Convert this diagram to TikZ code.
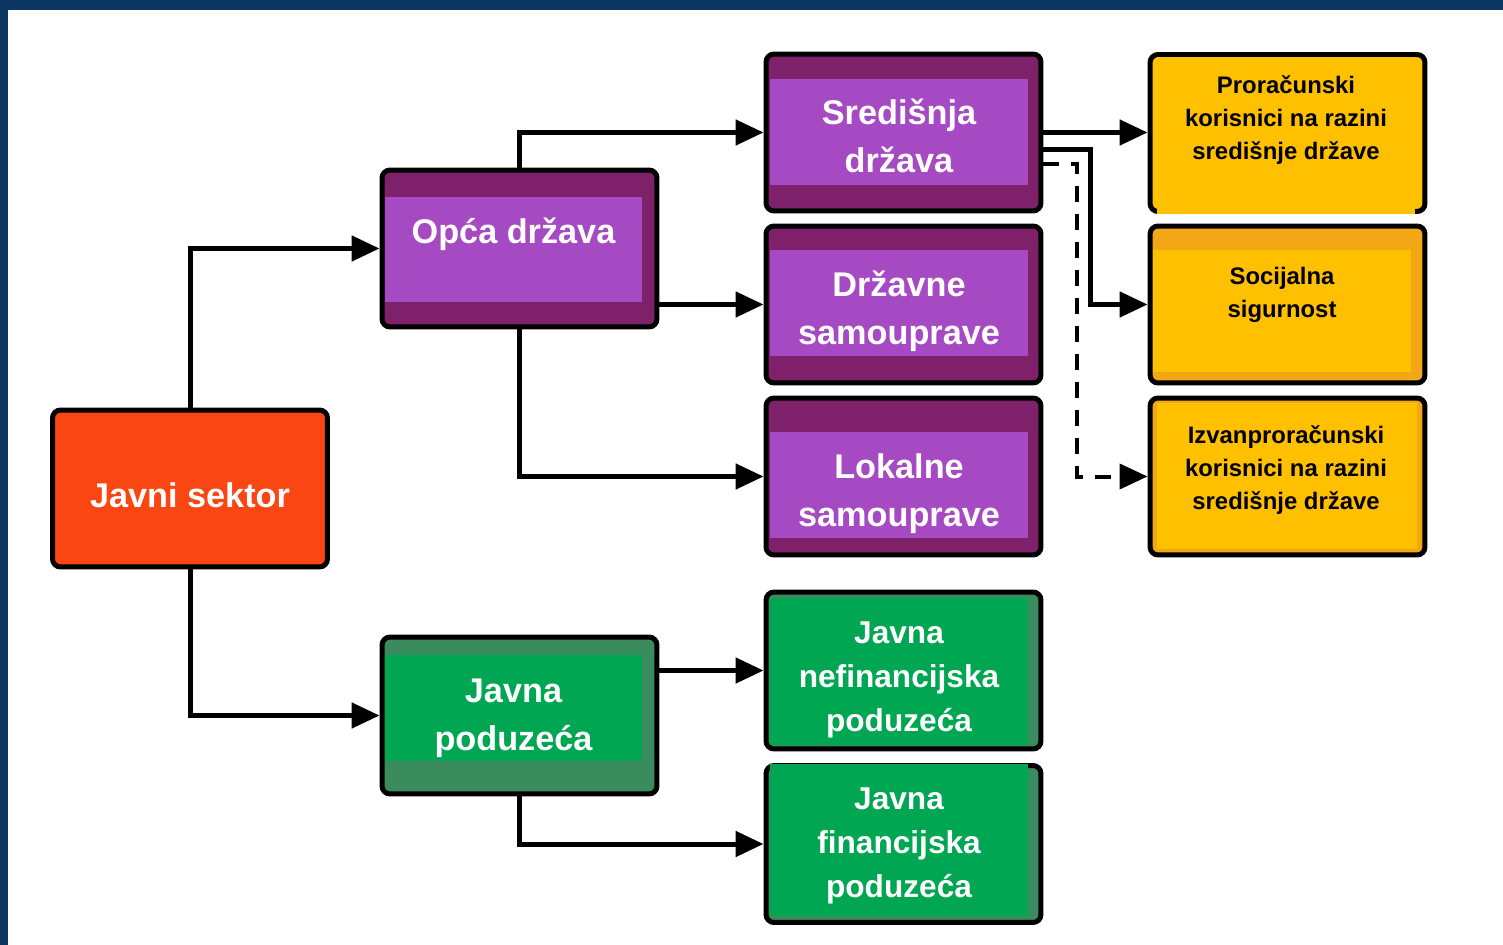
\documentclass[tikz,border=0pt]{standalone}
\usepackage{fontspec}
\setmainfont{Liberation Sans}
\usetikzlibrary{arrows.meta}
\definecolor{frameblue}{HTML}{0B3562}
\definecolor{redorange}{HTML}{FA4613}
\definecolor{darkpurple}{HTML}{7F206A}
\definecolor{lightpurple}{HTML}{A64AC3}
\definecolor{darkgreen}{HTML}{3A8C5E}
\definecolor{brightgreen}{HTML}{00A651}
\definecolor{amber}{HTML}{F4A714}
\definecolor{gold}{HTML}{FFC000}

\begin{document}
\begin{tikzpicture}[x=0.02cm, y=-0.02cm,
    box/.style={draw=black, line width=0.1cm, rounded corners=0.16cm, minimum width=5.5cm, minimum height=3.14cm, inner sep=0pt},
    inrect/.style={inner sep=0pt, minimum width=5.16cm},
    bigtext/.style={text=white, inner sep=0pt, align=center, font=\bfseries\fontsize{19.5}{27.3}\selectfont},
    midtext/.style={text=white, inner sep=0pt, align=center, font=\bfseries\fontsize{18}{25}\selectfont},
    smalltext/.style={text=black, inner sep=0pt, align=center, font=\bfseries\fontsize{13.6}{18.8}\selectfont},
    link/.style={line width=0.1cm, -{Triangle[length=0.56cm, width=0.5cm]}}]
        \useasboundingbox (0,0) rectangle (1503,945);
        \fill[frameblue] (0,0) rectangle (1503,10);
        \fill[frameblue] (0,0) rectangle (8,945);

        \node[box, fill=redorange] (javni) at (190,488.5) {};
        \node[bigtext] (javni-t) at (190,495) {Javni sektor};

        \node[box, fill=darkpurple] (opca) at (519.5,248.5) {};
        \node[box, fill=darkpurple] (sred) at (903.5,132.5) {};
        \node[box, fill=darkpurple] (drz) at (903.5,304.5) {};
        \node[box, fill=darkpurple] (lok) at (903.5,476.5) {};
        \node[inrect, fill=lightpurple, minimum width=5.14cm, minimum height=2.1cm] (opca-in) at (513.5,249.5) {};
        \node[inrect, fill=lightpurple, minimum height=2.12cm] (sred-in) at (899,132) {};
        \node[inrect, fill=lightpurple, minimum height=2.12cm] (drz-in) at (899,303) {};
        \node[inrect, fill=lightpurple, minimum height=2.12cm] (lok-in) at (899,485) {};
        \node[bigtext] (opca-t) at (513.5,234) {Opća država};
        \node[bigtext] (sred-t) at (899,136) {Središnja\\država};
        \node[bigtext] (drz-t) at (899,311) {Državne\\samouprave};
        \node[bigtext] (lok-t) at (899,494) {Lokalne\\samouprave};

        \node[box, fill=darkgreen] (jpod) at (519.5,715.5) {};
        \node[box, fill=darkgreen] (nefin) at (903.5,670.5) {};
        \node[box, fill=darkgreen] (fin) at (903.5,844) {};
        \node[inrect, fill=brightgreen, minimum width=5.14cm, minimum height=2.12cm] (jpod-in) at (513.5,708) {};
        \node[inrect, fill=brightgreen, minimum height=2.94cm] (nefin-in) at (899,671.5) {};
        \node[inrect, fill=brightgreen, minimum height=3.04cm] (fin-in) at (899,840) {};
        \node[bigtext] (jpod-t) at (513.5,718) {Javna\\poduzeća};
        \node[midtext] (nefin-t) at (899,680) {Javna\\nefinancijska\\poduzeća};
        \node[midtext] (fin-t) at (899,846) {Javna\\financijska\\poduzeća};

        \node[box, fill=gold] (prorac) at (1287.5,133) {};
        \node[box, fill=amber] (soc) at (1287.5,304.5) {};
        \node[box, fill=amber] (izv) at (1287.5,476.5) {};
        \node[inrect, fill=gold, minimum height=3.14cm] (prorac-in) at (1286,135.5) {};
        \node[inrect, fill=gold, minimum height=2.44cm] (soc-in) at (1282,311) {};
        \node[inrect, fill=gold, minimum width=5.2cm, minimum height=2.92cm] (izv-in) at (1287,476) {};
        \node[smalltext] (prorac-t) at (1286,120) {Proračunski\\korisnici na razini\\središnje države};
        \node[smalltext] (soc-t) at (1282,295) {Socijalna\\sigurnost};
        \node[smalltext] (izv-t) at (1286,470) {Izvanproračunski\\korisnici na razini\\središnje države};

        \coordinate (soc-turn) at (1090,150);
        \coordinate (izv-turn) at (1077,164);

        \draw[link] (javni.north) |- (opca.west);
        \draw[link] (javni.south) |- (jpod.west);
        \draw[link] (opca.north) |- (sred.west);
        \draw[link] (opca.east |- drz.west) -- (drz.west);
        \draw[link] (opca.south) |- (lok.west);
        \draw[link] (jpod.east |- nefin.west) -- (nefin.west);
        \draw[link] (jpod.south) |- (fin.west);
        \draw[link] (sred.east) -- (sred.east -| prorac.west);
        \draw[link] (sred.east |- soc-turn) -- (soc-turn) |- (soc.west);
        \draw[link, line width=0.08cm, dash pattern=on 0.32cm off 0.24cm] (sred.east |- izv-turn) -- (izv-turn) |- (izv.west);
    \end{tikzpicture}
\end{document}
